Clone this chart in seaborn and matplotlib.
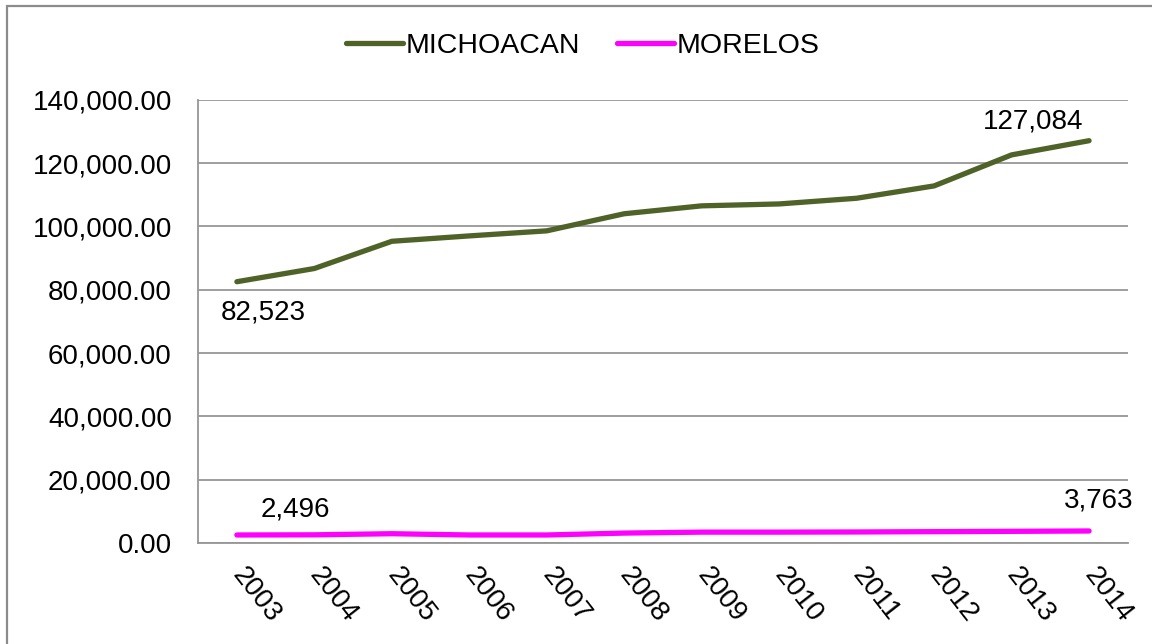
import matplotlib
matplotlib.use("Agg")
import matplotlib.pyplot as plt
from matplotlib.patches import Rectangle
from matplotlib.ticker import FuncFormatter
import pandas as pd
import seaborn as sns

years = ["2003", "2004", "2005", "2006", "2007", "2008",
         "2009", "2010", "2011", "2012", "2013", "2014"]
michoacan = [82523, 86700, 95300, 97000, 98600, 104000,
             106500, 107100, 108900, 112800, 122600, 127084]
morelos = [2496, 2550, 2900, 2500, 2500, 3100,
           3400, 3400, 3450, 3550, 3650, 3763]
series_names = ["MICHOACAN", "MORELOS"]
series_colors = ["#4F6228", "#FF00FF"]
y_ticks = [0, 20000, 40000, 60000, 80000, 100000, 120000, 140000]

df = pd.concat([
    pd.DataFrame({"year": years, "value": michoacan, "state": series_names[0]}),
    pd.DataFrame({"year": years, "value": morelos, "state": series_names[1]}),
])

sns.set_theme(style="white")
plt.rcParams["font.family"] = ["Liberation Sans", "DejaVu Sans"]
plt.rcParams["text.color"] = "black"

fig = plt.figure(figsize=(11.52, 6.44), dpi=100)
ax = fig.add_axes([0.172, 0.157, 0.807, 0.688])

sns.lineplot(
    data=df, x="year", y="value", hue="state",
    palette=dict(zip(series_names, series_colors)),
    linewidth=3.8, ax=ax, legend=True, sort=False,
)
for line in ax.get_lines():
    line.set_solid_capstyle("round")

ax.set_xlim(-0.5, len(years) - 0.5)
ax.set_ylim(0, 140000)
ax.set_yticks(y_ticks)
ax.yaxis.set_major_formatter(FuncFormatter(lambda v, _: f"{v:,.2f}"))
ax.set_xlabel("")
ax.set_ylabel("")
ax.grid(axis="y", color="#969696", linewidth=1.3)
ax.set_axisbelow(True)
for side in ["top", "right"]:
    ax.spines[side].set_visible(False)
for side in ["left", "bottom"]:
    ax.spines[side].set_color("#969696")
    ax.spines[side].set_linewidth(1.3)
ax.tick_params(axis="y", length=0, labelsize=20, pad=19, colors="black")
ax.tick_params(axis="x", length=0, labelsize=20, pad=20, colors="black")
plt.setp(ax.get_xticklabels(), rotation=-52, ha="left", va="center",
         rotation_mode="anchor")

# data labels on first and last points
label_style = dict(fontsize=20, ha="center", va="center", textcoords="offset points")
ax.annotate(f"{michoacan[0]:,}", (0, michoacan[0]), xytext=(19, -22), **label_style)
ax.annotate(f"{michoacan[-1]:,}", (11, michoacan[-1]), xytext=(-40, 14), **label_style)
ax.annotate(f"{morelos[0]:,}", (0, morelos[0]), xytext=(42, 18), **label_style)
ax.annotate(f"{morelos[-1]:,}", (11, morelos[-1]), xytext=(7, 22), **label_style)

handles, labels = ax.get_legend_handles_labels()
ax.legend(
    handles, labels, loc="center", bbox_to_anchor=(0.506, 0.928),
    bbox_transform=fig.transFigure, ncol=2, frameon=False, fontsize=20.5,
    handlelength=2.0, handletextpad=0.1, columnspacing=1.3,
)

# chart-area border (right and bottom edges fall outside the image)
fig.patches.append(Rectangle((0.006, -0.1), 1.2, 1.09, transform=fig.transFigure,
                             fill=False, edgecolor="#8c8c8c", linewidth=1.6))

fig.savefig("out.png", dpi=100)
